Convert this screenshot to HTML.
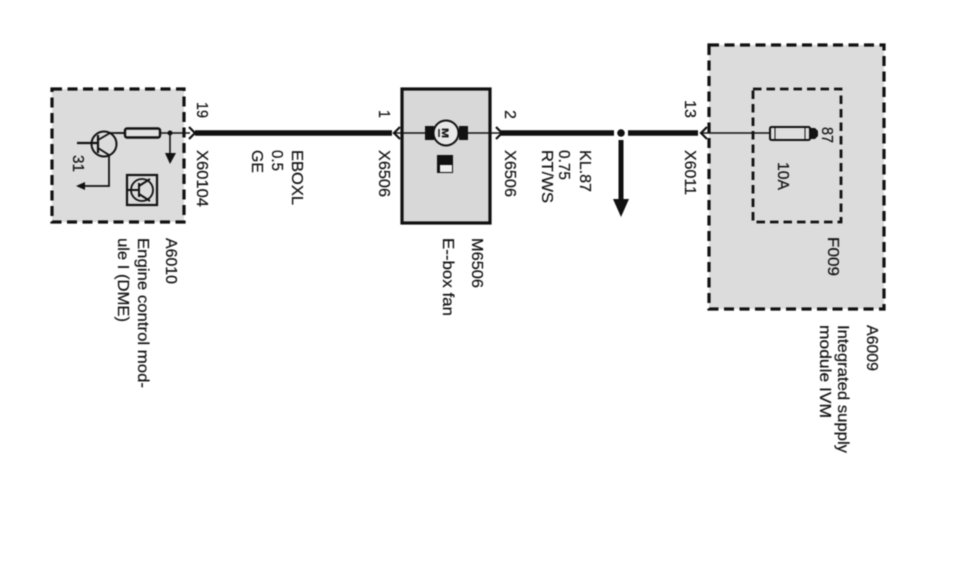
<!DOCTYPE html>
<html><head><meta charset="utf-8">
<style>
html,body{margin:0;padding:0;background:#fff;width:961px;height:584px;overflow:hidden}
svg{display:block}
text{font-family:"Liberation Sans",sans-serif;font-size:15.5px;fill:#111;stroke:#111;stroke-width:.2px}
</style></head>
<body>
<svg width="961" height="584" viewBox="0 0 961 584" xmlns="http://www.w3.org/2000/svg">
<g style="filter:blur(0.45px)">
<!-- boxes -->
<rect x="52" y="89" width="132" height="133" fill="#dcdcdc" stroke="#111" stroke-width="3.2" stroke-dasharray="10 5.5"/>
<rect x="402" y="89" width="88" height="134" fill="#d8d8d8" stroke="#111" stroke-width="3.2"/>
<rect x="709" y="45" width="175" height="264" fill="#dcdcdc" stroke="#111" stroke-width="3.2" stroke-dasharray="10 5.5"/>
<rect x="753" y="89" width="88" height="133" fill="#dcdcdc" stroke="#111" stroke-width="2.8" stroke-dasharray="8.5 5"/>

<!-- thick wires -->
<path d="M195 133H392M500 133H614M628 133H698" stroke="#111" stroke-width="5.5" fill="none"/>
<!-- thin wires -->
<path d="M116 133H190M393 133H500M702 133H770" stroke="#111" stroke-width="1.5" fill="none"/>
<!-- connector chevrons -->
<g fill="none" stroke="#111" stroke-width="2.2">
<path d="M189 127L195 133L189 139"/>
<path d="M400 127L394 133L400 139"/>
<path d="M496 127L502 133L496 139"/>
<path d="M707 127L701 133L707 139"/>
</g>

<!-- junction and arrow -->
<circle cx="621" cy="133" r="3.800" fill="#111"/>
<path d="M621 140V200" stroke="#111" stroke-width="5"/>
<path d="M613 199H629L621 217Z" fill="#111"/>

<!-- left module: transistor -->
<circle cx="104" cy="144" r="12.500" fill="none" stroke="#111" stroke-width="2"/>
<path d="M77 143H98M98 135V153" stroke="#111" stroke-width="2.2" fill="none"/>
<path d="M98 140L110 133H125M98 148L109 155V186H82" stroke="#111" stroke-width="1.8" fill="none"/>
<path d="M85 182V190L76 186Z" fill="#111"/>
<rect x="125" y="128.500" width="35" height="9" rx="2" fill="#e2e2e2" stroke="#111" stroke-width="2.4"/>
<circle cx="170" cy="133" r="2.500" fill="#111"/>
<path d="M170 133V154" stroke="#111" stroke-width="1.6"/>
<path d="M165 153H176L170 164Z" fill="#111"/>
<rect x="127" y="175" width="30" height="30" fill="none" stroke="#111" stroke-width="2.2"/>
<circle cx="142" cy="190" r="11" fill="none" stroke="#111" stroke-width="1.8"/>
<path d="M128 190H139M139 183V197M139 186L150 179M139 194L150 201" stroke="#111" stroke-width="2" fill="none"/>

<!-- motor -->
<rect x="425" y="126" width="9" height="14" fill="#111"/>
<rect x="459" y="126" width="9" height="14" fill="#111"/>
<circle cx="446" cy="133" r="12.500" fill="#e8e8e8" stroke="#111" stroke-width="2"/>
<text transform="translate(442,128) rotate(90)" style="font-size:9px;font-weight:bold" textLength="10" lengthAdjust="spacingAndGlyphs">M</text>
<path d="M439 129V137" stroke="#111" stroke-width="1.4"/>
<rect x="437" y="155" width="16" height="18" fill="#111"/>
<rect x="440" y="165" width="12" height="7" fill="#eee"/>

<!-- fuse -->
<rect x="770" y="127" width="40" height="13" rx="1.5" fill="#dedede" stroke="#111" stroke-width="2"/>
<path d="M775 127V140M805 127V140" stroke="#111" stroke-width="1"/>
<path d="M809 128H815L818 131V136L815 139H809Z" fill="#111"/>

<!-- labels -->
<text transform="translate(197,102) rotate(90)" textLength="16" lengthAdjust="spacingAndGlyphs">19</text>
<text transform="translate(197,150) rotate(90)" textLength="57" lengthAdjust="spacingAndGlyphs">X60104</text>
<text transform="translate(292,150) rotate(90)" textLength="55" lengthAdjust="spacingAndGlyphs">EBOXL</text>
<text transform="translate(272,150) rotate(90)" textLength="21" lengthAdjust="spacingAndGlyphs">0.5</text>
<text transform="translate(252,150) rotate(90)" textLength="23" lengthAdjust="spacingAndGlyphs">GE</text>
<text transform="translate(166,238) rotate(90)" textLength="46" lengthAdjust="spacingAndGlyphs">A6010</text>
<text transform="translate(138,238) rotate(90)" textLength="150" lengthAdjust="spacingAndGlyphs">Engine control mod-</text>
<text transform="translate(118,238) rotate(90)" textLength="84" lengthAdjust="spacingAndGlyphs">ule I (DME)</text>
<text transform="translate(73,155) rotate(90)" textLength="17" lengthAdjust="spacingAndGlyphs">31</text>

<text transform="translate(379,110) rotate(90)" textLength="8" lengthAdjust="spacingAndGlyphs">1</text>
<text transform="translate(379,150) rotate(90)" textLength="47" lengthAdjust="spacingAndGlyphs">X6506</text>
<text transform="translate(505,110) rotate(90)" textLength="9" lengthAdjust="spacingAndGlyphs">2</text>
<text transform="translate(505,150) rotate(90)" textLength="47" lengthAdjust="spacingAndGlyphs">X6506</text>
<text transform="translate(580,150) rotate(90)" textLength="42" lengthAdjust="spacingAndGlyphs">KL.87</text>
<text transform="translate(559,150) rotate(90)" textLength="30" lengthAdjust="spacingAndGlyphs">0.75</text>
<text transform="translate(542,150) rotate(90)" textLength="53" lengthAdjust="spacingAndGlyphs">RT/WS</text>
<text transform="translate(472,238) rotate(90)" textLength="50" lengthAdjust="spacingAndGlyphs">M6506</text>
<text transform="translate(443,238) rotate(90)" textLength="78" lengthAdjust="spacingAndGlyphs">E--box fan</text>

<text transform="translate(685,100) rotate(90)" textLength="18" lengthAdjust="spacingAndGlyphs">13</text>
<text transform="translate(685,150) rotate(90)" textLength="45" lengthAdjust="spacingAndGlyphs">X6011</text>
<text transform="translate(822,127) rotate(90)" textLength="16" lengthAdjust="spacingAndGlyphs">87</text>
<text transform="translate(778,162) rotate(90)" textLength="28" lengthAdjust="spacingAndGlyphs">10A</text>
<text transform="translate(828,237) rotate(90)" textLength="39" lengthAdjust="spacingAndGlyphs">F009</text>
<text transform="translate(867,325) rotate(90)" textLength="46" lengthAdjust="spacingAndGlyphs">A6009</text>
<text transform="translate(838,325) rotate(90)" textLength="128" lengthAdjust="spacingAndGlyphs">Integrated supply</text>
<text transform="translate(820,325) rotate(90)" textLength="93" lengthAdjust="spacingAndGlyphs">module IVM</text>
</g>
</svg>
</body></html>
